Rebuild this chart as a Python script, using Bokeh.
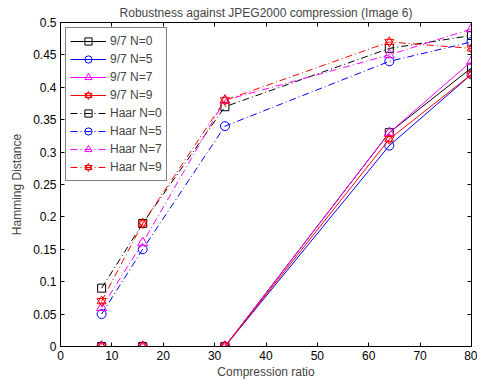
from bokeh.plotting import figure
from bokeh.models import Range1d, FixedTicker, LinearAxis, Legend, LegendItem, CustomJSTickFormatter
from bokeh.embed import file_html
from bokeh.resources import INLINE

# ---- data ----
ratios = [8, 16, 32, 64, 80]
w97_n0 = [0, 0, 0, 0.33, 0.43]
w97_n5 = [0, 0, 0, 0.31, 0.42]
w97_n7 = [0, 0, 0, 0.33, 0.44]
w97_n9 = [0, 0, 0, 0.32, 0.42]
haar_n0 = [0.09, 0.19, 0.37, 0.46, 0.48]
haar_n5 = [0.05, 0.15, 0.34, 0.44, 0.47]
haar_n7 = [0.06, 0.16, 0.38, 0.45, 0.49]
haar_n9 = [0.07, 0.19, 0.38, 0.47, 0.46]
series_labels = ["9/7 N=0", "9/7 N=5", "9/7 N=7", "9/7 N=9",
                 "Haar N=0", "Haar N=5", "Haar N=7", "Haar N=9"]
x_ticks = [0, 10, 20, 30, 40, 50, 60, 70, 80]
y_ticks = [0, 0.05, 0.1, 0.15, 0.2, 0.25, 0.3, 0.35, 0.4, 0.45, 0.5]

NARROW = "Liberation Sans Narrow, Liberation Sans, Arial, sans-serif"
FONT = "Liberation Sans, Arial, sans-serif"

p = figure(frame_width=411, frame_height=324, output_backend="svg",
           toolbar_location=None, x_range=Range1d(0, 80), y_range=Range1d(0, 0.5),
           min_border_left=60, min_border_right=6, min_border_bottom=32, min_border_top=22,
           title="Robustness against JPEG2000 compression (Image 6)")
p.background_fill_color = "white"
p.border_fill_color = "white"
p.outline_line_color = "black"
p.outline_line_width = 1
p.xgrid.visible = False
p.ygrid.visible = False

p.title.align = "center"
p.title.text_font = FONT
p.title.text_font_size = "12px"
p.title.text_font_style = "normal"
p.title.standoff = 5
p.title.offset = 0

fmt = CustomJSTickFormatter(code="return String(Math.round(tick*100)/100);")
blank = CustomJSTickFormatter(code="return '';")

def style_axis(ax, ticks, show_labels=True):
    ax.ticker = FixedTicker(ticks=ticks)
    ax.major_tick_in = 4
    ax.major_tick_out = 0
    ax.minor_tick_line_color = None
    ax.axis_line_color = "black"
    ax.major_tick_line_color = "black"
    ax.major_label_text_font = NARROW
    ax.major_label_text_color = "black"
    ax.major_label_text_font_size = "12px"
    if show_labels:
        ax.formatter = fmt
        ax.major_label_standoff = 4
    else:
        ax.formatter = blank
        ax.major_label_standoff = 0

style_axis(p.xaxis[0], x_ticks)
style_axis(p.yaxis[0], y_ticks)
p.xaxis[0].axis_label = "Compression ratio"
p.yaxis[0].axis_label = "Hamming Distance"
for ax in (p.xaxis[0], p.yaxis[0]):
    ax.axis_label_text_font = FONT
    ax.axis_label_text_font_size = "12px"
    ax.axis_label_text_font_style = "normal"
p.xaxis[0].axis_label_standoff = 2
p.yaxis[0].axis_label_standoff = 6

top_ax = LinearAxis()
style_axis(top_ax, x_ticks, show_labels=False)
p.add_layout(top_ax, "above")
right_ax = LinearAxis()
style_axis(right_ax, y_ticks, show_labels=False)
p.add_layout(right_ax, "right")

colors = ["black", "#0000ff", "#ff00ff", "#ff0000"]
markers = ["square", "circle", "triangle", "hexagram"]
msize = {"square": 8, "circle": 9, "triangle": 10, "hexagram": 9}
data = [w97_n0, w97_n5, w97_n7, w97_n9, haar_n0, haar_n5, haar_n7, haar_n9]

items = []
for i, ys in enumerate(data):
    c = colors[i % 4]
    m = markers[i % 4]
    dash = "solid" if i < 4 else "7 3 1 3"
    rs = [p.line(ratios, ys, line_color=c, line_width=1, line_dash=dash)]
    if m == "hexagram":
        rs.append(p.scatter(ratios, ys, marker="triangle", size=msize[m],
                            line_color=c, fill_color=None, line_width=1))
        rs.append(p.scatter(ratios, ys, marker="inverted_triangle", size=msize[m],
                            line_color=c, fill_color=None, line_width=1))
    else:
        rs.append(p.scatter(ratios, ys, marker=m, size=msize[m],
                            line_color=c, fill_color=None, line_width=1))
    items.append(LegendItem(label=series_labels[i], renderers=rs))

legend = Legend(items=items, location="top_left")
legend.border_line_color = "black"
legend.border_line_width = 1
legend.background_fill_color = "white"
legend.background_fill_alpha = 1
legend.label_text_font = FONT
legend.label_text_font_size = "12px"
legend.glyph_width = 36
legend.glyph_height = 18
legend.label_height = 18
legend.label_standoff = 4
legend.spacing = 0
legend.padding = 4
legend.margin = 5
p.add_layout(legend, "center")

open("out.html", "w").write(file_html(p, INLINE))
